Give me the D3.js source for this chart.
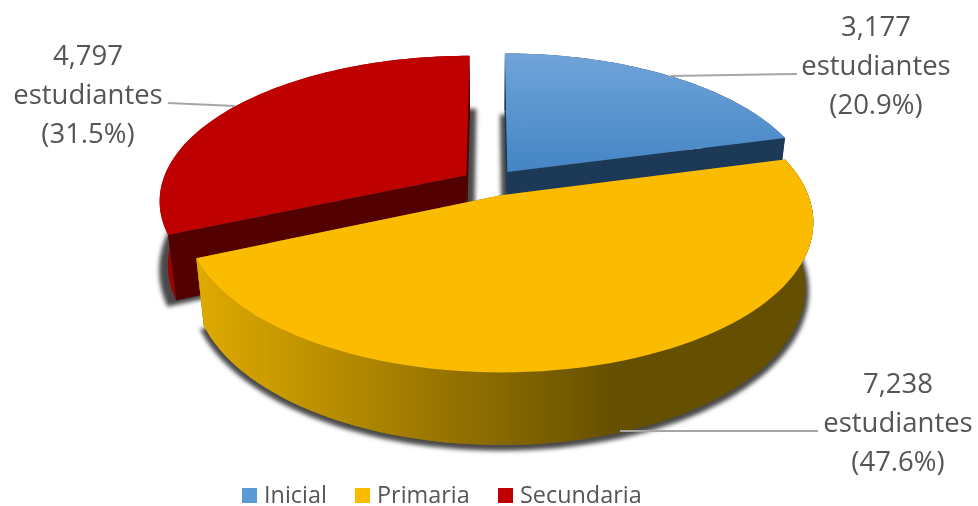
<!DOCTYPE html>
<html>
<head>
<meta charset="utf-8">
<style>
  html, body { margin: 0; background: #fff; }
  svg { display: block; }
  text { font-family: "Open Sans", sans-serif; fill: #555; }
</style>
</head>
<body>
<svg id="chart" width="978" height="506"></svg>
<script src="https://cdn.jsdelivr.net/npm/d3@7"></script>
<script>
const categories = ["Inicial", "Primaria", "Secundaria"];
const students = [3177, 7238, 4797];
const shares = ["20.9%", "47.6%", "31.5%"];

const topColors = ["url(#blueTop)", "#FBBC00", "#BE0000"];
const innerColors = ["#1C3A57", "#8A6A00", "#520000"];
const outerColors = ["#1C3A57", "url(#yellowSide)", "#A00000"];
const legendColors = ["#5B9BD5", "#FBBC00", "#C00000"];
const legendX = [242, 355, 498];
const labelX = [876, 898, 88];
const labelY = [36, 393, 65];
const leaders = [
  [[670, 76], [797, 74]],
  [[620, 431], [818, 431]],
  [[168, 103], [235, 106]],
];
// sombra de cada porción: [acercar vértice, escala radio, dx, dy]
const shadows = [
  [0.03, 0.98, 0, 0],
  [0, 1.012, 0, 3],
  [0.03, 1.05, 0, 0],
];

const W = 978, H = 506;
const cx = 490, cy = 182.5;   // centro del disco en pantalla
const R = 304, Ry = 142;      // radios del disco
const persp = 0.17;           // fondo mas chico que el frente
const explode = 0.095;
const depth = 63;             // grosor
const baseScale = 0.975;      // cara inferior un poco mas lejos

const svg = d3.select("#chart");
const defs = svg.append("defs");

const blueGrad = defs.append("linearGradient").attr("id", "blueTop")
  .attr("x1", 0).attr("y1", 0).attr("x2", 0).attr("y2", 1);
blueGrad.append("stop").attr("offset", 0).attr("stop-color", "#70A4D9");
blueGrad.append("stop").attr("offset", 1).attr("stop-color", "#4485C5");

const sideGrad = defs.append("linearGradient").attr("id", "yellowSide")
  .attr("gradientUnits", "userSpaceOnUse")
  .attr("x1", 197).attr("y1", 0).attr("x2", 815).attr("y2", 0);
sideGrad.append("stop").attr("offset", 0).attr("stop-color", "#DFAA00");
sideGrad.append("stop").attr("offset", 0.68).attr("stop-color", "#654F00");
sideGrad.append("stop").attr("offset", 1).attr("stop-color", "#654F00");

defs.append("filter").attr("id", "soft")
  .attr("x", "-10%").attr("y", "-10%").attr("width", "120%").attr("height", "120%")
  .append("feGaussianBlur").attr("stdDeviation", 2);

const pie = d3.pie().sort(null);
const arcs = pie(students);
const line = d3.line();

// punto del disco (X derecha, Y hacia el fondo) a pantalla
function project(X, Y, bottom) {
  const s = 1 / (1 + persp * Y);
  const b = bottom ? baseScale : 1;
  return [
    cx + R * X * s * b,
    cy - Ry * Y * s * b + (bottom ? depth * s : 0),
  ];
}

function apex(d, shift = 0) {
  const mid = (d.startAngle + d.endAngle) / 2;
  return [(explode - shift) * Math.sin(mid), (explode - shift) * Math.cos(mid)];
}

function rim(d, bottom, shift = 0, rs = 1) {
  const [ax, ay] = apex(d, shift);
  const n = 80;
  return d3.range(n + 1).map(i => {
    const a = d.startAngle + (d.endAngle - d.startAngle) * i / n;
    return project(ax + rs * Math.sin(a), ay + rs * Math.cos(a), bottom);
  });
}

function face(d, bottom, shift, rs) {
  const [ax, ay] = apex(d, shift);
  return line([project(ax, ay, bottom), ...rim(d, bottom, shift, rs)]) + "Z";
}

function innerWall(d, fromStart) {
  const [ax, ay] = apex(d);
  const top = rim(d, false), bot = rim(d, true);
  const i = fromStart ? 0 : top.length - 1;
  return line([project(ax, ay, false), top[i], bot[i], project(ax, ay, true)]) + "Z";
}

function outerWall(d) {
  return line([...rim(d, false), ...rim(d, true).reverse()]) + "Z";
}

// ── Sombras ──
svg.append("g").attr("filter", "url(#soft)")
  .selectAll("path").data(arcs).join("path")
  .attr("fill", "#4a4a4a")
  .attr("transform", (d, i) => `translate(${shadows[i][2]},${shadows[i][3]})`)
  .attr("d", (d, i) => face(d, true, shadows[i][0], shadows[i][1]));

// ── Porciones: rojo y azul detras, amarillo al frente ──
const order = [2, 0, 1];
const slices = svg.append("g").selectAll("g")
  .data(order.map(i => arcs[i])).join("g");

slices.append("path").attr("d", outerWall).attr("fill", d => outerColors[d.index]);
slices.append("path").attr("d", d => innerWall(d, true)).attr("fill", d => innerColors[d.index]);
slices.append("path").attr("d", d => innerWall(d, false)).attr("fill", d => innerColors[d.index]);
slices.filter(d => d.index === 1).append("path").attr("d", outerWall).attr("fill", outerColors[1]);
slices.append("path").attr("d", d => face(d, false)).attr("fill", d => topColors[d.index]);

// ── Lineas guia ──
svg.append("g").selectAll("path").data(leaders).join("path")
  .attr("d", d => line(d))
  .attr("fill", "none").attr("stroke", "#A6A6A6").attr("stroke-width", 2);

// ── Etiquetas ──
const fmt = d3.format(",");
const labels = svg.append("g").selectAll("text").data(categories).join("text")
  .attr("text-anchor", "middle")
  .attr("font-size", 27.5);
labels.each(function(c, i) {
  const rows = [fmt(students[i]), "estudiantes", `(${shares[i]})`];
  d3.select(this).selectAll("tspan").data(rows).join("tspan")
    .attr("x", labelX[i])
    .attr("y", (r, j) => labelY[i] + j * 39)
    .text(r => r);
});

// ── Leyenda ──
const legend = svg.append("g").selectAll("g").data(categories).join("g");
legend.append("rect")
  .attr("x", (c, i) => legendX[i]).attr("y", 488)
  .attr("width", 15).attr("height", 15)
  .attr("fill", (c, i) => legendColors[i]);
legend.append("text")
  .attr("x", (c, i) => legendX[i] + 22).attr("y", 503)
  .attr("font-size", 23.4)
  .text(c => c);
</script>
</body>
</html>
